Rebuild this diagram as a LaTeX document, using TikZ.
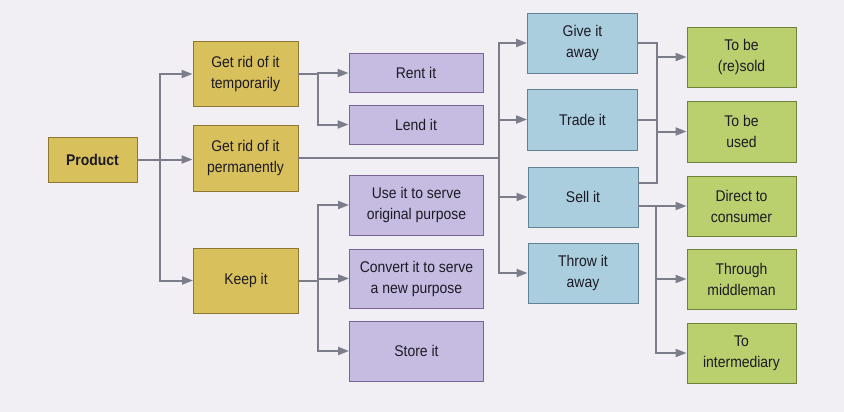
\documentclass[tikz,border=0pt]{standalone}
\usepackage{fontspec}
\setmainfont{Liberation Sans}[FakeStretch=0.9]
\usetikzlibrary{arrows.meta}
\definecolor{pagebg}{RGB}{241,239,244}
\definecolor{mustard}{RGB}{216,192,92}
\definecolor{mustardline}{RGB}{140,120,50}
\definecolor{lilac}{RGB}{198,188,226}
\definecolor{lilacline}{RGB}{120,100,150}
\definecolor{paleblue}{RGB}{170,206,222}
\definecolor{paleblueline}{RGB}{100,130,150}
\definecolor{leaf}{RGB}{186,208,110}
\definecolor{leafline}{RGB}{110,130,60}
\definecolor{wire}{RGB}{125,124,138}
\definecolor{ink}{RGB}{28,26,36}

\begin{document}
\begin{tikzpicture}[x=1pt,y=-1pt,
    box/.style={draw,line width=0.9pt,inner sep=0pt,align=center,text=ink,
      font=\fontsize{15.5}{21}\selectfont},
    yellowbox/.style={box,fill=mustard,draw=mustardline,minimum width=105pt,minimum height=65pt},
    purplebox/.style={box,fill=lilac,draw=lilacline,minimum width=134pt,minimum height=60pt},
    bluebox/.style={box,fill=paleblue,draw=paleblueline,minimum width=110pt,minimum height=60pt},
    greenbox/.style={box,fill=leaf,draw=leafline,minimum width=109pt,minimum height=60pt},
    line/.style={draw=wire,line width=2pt},
    arr/.style={line,-{Triangle[length=11pt,width=8pt]}}]
    \fill[pagebg] (0,0) rectangle (844,412);
    \useasboundingbox (0,0) rectangle (844,412);
    \node[yellowbox,minimum width=89pt,minimum height=45pt,font=\fontsize{15.5}{21}\selectfont\bfseries] (prod) at (92.5,159.5) {Product};
    \node[yellowbox] (temp) at (245.5,74) {Get rid of it\\temporarily};
    \node[yellowbox,minimum height=66pt] (perm) at (245.5,158) {Get rid of it\\permanently};
    \node[yellowbox] (keep) at (246,280.5) {Keep it};
    \node[purplebox,minimum height=39pt] (rent) at (416,73) {Rent it};
    \node[purplebox,minimum height=39pt] (lend) at (416,124.5) {Lend it};
    \node[purplebox] (use) at (416.5,205) {Use it to serve\\original purpose};
    \node[purplebox,minimum height=59pt] (conv) at (416.5,278.5) {Convert it to serve\\a new purpose};
    \node[purplebox] (store) at (416.5,351) {Store it};
    \node[bluebox] (give) at (582.5,43) {Give it\\away};
    \node[bluebox,minimum height=61pt] (trade) at (582.5,119.5) {Trade it};
    \node[bluebox] (sell) at (583,197) {Sell it};
    \node[bluebox] (throw) at (583,273) {Throw it\\away};
    \node[greenbox] (resold) at (741.5,57) {To be\\(re)sold};
    \node[greenbox,minimum height=61pt] (used) at (741.5,131.5) {To be\\used};
    \node[greenbox] (direct) at (741.5,206) {Direct to\\consumer};
    \node[greenbox] (middle) at (741.5,279) {Through\\middleman};
    \node[greenbox] (inter) at (741.5,353) {To\\intermediary};
    \coordinate (j1) at (160,159.5);
    \coordinate (j2) at (318,74);
    \coordinate (j3) at (499,158);
    \coordinate (j4) at (318,280.5);
    \coordinate (j5a) at (657,43);
    \coordinate (j5b) at (657,183);
    \coordinate (j6) at (656,206);
    \draw[arr] (prod.east) -- (prod.east -| perm.west);
    \draw[arr] (j1) |- (temp);
    \draw[arr] (j1) |- (keep);
    \draw[line] (temp.east) -- (j2);
    \draw[arr] (j2) |- (rent);
    \draw[arr] (j2) |- (lend);
    \draw[line] (perm.east) -- (j3);
    \draw[arr] (j3) |- (give);
    \draw[arr] (j3) |- (trade);
    \draw[arr] (j3) |- (sell);
    \draw[arr] (j3) |- (throw);
    \draw[line] (keep.east) -- (j4);
    \draw[arr] (j4) |- (use);
    \draw[arr] (j4) |- (conv);
    \draw[arr] (j4) |- (store);
    \draw[line] (give.east) -- (j5a) -- (j5b) -- (j5b -| sell.east);
    \draw[line] (trade.east) -- (trade.east -| j5a);
    \draw[arr] (j5a |- resold) -- (resold);
    \draw[arr] (j5a |- used) -- (used);
    \draw[line] (j6 -| sell.east) -- (j6);
    \draw[arr] (j6) -- (direct);
    \draw[arr] (j6) |- (middle);
    \draw[arr] (j6) |- (inter);
\end{tikzpicture}
\end{document}
